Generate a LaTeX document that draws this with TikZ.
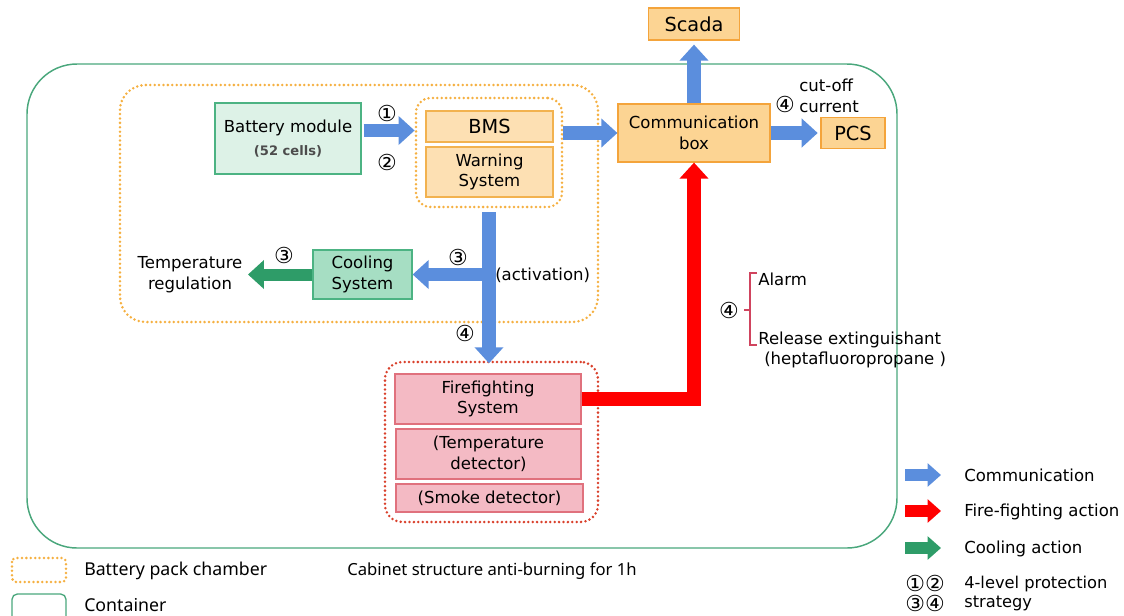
\documentclass[tikz,border=0pt]{standalone}
\usepackage{fontspec}
\setmainfont{DejaVu Sans}
\newfontfamily\uifont{Noto Sans}
\usetikzlibrary{arrows.meta,calc}
\definecolor{contg}{HTML}{4AA77C}
\definecolor{orgdot}{HTML}{F5B041}
\definecolor{lorfill}{HTML}{FDE0B3}
\definecolor{lorbord}{HTML}{F2B24F}
\definecolor{commfill}{HTML}{FCD493}
\definecolor{commbord}{HTML}{F4A43B}
\definecolor{modfill}{HTML}{DDF2E7}
\definecolor{modbord}{HTML}{4CB383}
\definecolor{coolfill}{HTML}{A6DEC3}
\definecolor{pinkfill}{HTML}{F4BAC4}
\definecolor{pinkbord}{HTML}{E0717D}
\definecolor{reddot}{HTML}{D9402B}
\definecolor{bluearr}{HTML}{5B8EDD}
\definecolor{greenarr}{HTML}{2E9C68}
\definecolor{redarr}{HTML}{FF0000}
\definecolor{brack}{HTML}{D0445E}
\tikzset{
  boxtxt/.style={font=\fontsize{12.4}{15.5}\selectfont},
  box/.style={draw, align=center, inner sep=0pt, line width=0.9pt, boxtxt},
  orgbox/.style={box, fill=lorfill, draw=lorbord},
  pinkbox/.style={box, fill=pinkfill, draw=pinkbord},
  dotline/.style={line width=2.1pt, line cap=round, dash pattern=on 0pt off 3.3pt},
  blk/.style={line width=10pt, -{Triangle[width=21pt,length=12pt]}},
  blkleg/.style={line width=9pt, -{Triangle[width=17pt,length=10pt]}},
  lbl/.style={inner sep=0pt, boxtxt},
  circ/.style={inner sep=0pt, font=\fontsize{16.5}{18}\selectfont},
  uitxt/.style={anchor=west, inner sep=0pt, font=\uifont\fontsize{13.3}{15}\selectfont},
}
\begin{document}
\begin{tikzpicture}[x=0.75pt,y=-0.75pt]
\useasboundingbox (0,0) rectangle (1124,615);
% container
\draw[contg, line width=1.1pt, rounded corners=37.5pt] (27,64) rectangle (897,548);
% battery pack chamber
\node (chamber) [draw=orgdot, dotline, rounded corners=19pt, minimum width=358.5pt, minimum height=177.75pt] at (359,203.5) {};
% nodes
\node (mod) [box, fill=modfill, draw=modbord, minimum width=109.5pt, minimum height=53.25pt] at (288,138.5)
  {Battery module\\[1.5pt]{\fontsize{9.8}{11}\selectfont\bfseries\color{black!70}(52 cells)}};
\node (bmsgrp) [draw=orgdot, dotline, rounded corners=11pt, minimum width=109.5pt, minimum height=81.75pt] at (489,152.5) {};
\node (bms) [orgbox, minimum width=95.25pt, minimum height=23.25pt, font=\fontsize{14.5}{16}\selectfont] at (489.5,126.5) {BMS};
\node (warn) [orgbox, minimum width=95.25pt, minimum height=37.5pt] at (489.5,172) {Warning\\System};
\node (comm) [box, fill=commfill, draw=commbord, minimum width=114pt, minimum height=43.5pt] at (694,133) {Communication\\box};
\node (scada) [box, fill=commfill, draw=commbord, minimum width=68.25pt, minimum height=24pt, font=\fontsize{14.5}{16}\selectfont] at (694,24) {Scada};
\node (pcs) [box, fill=commfill, draw=commbord, minimum width=48pt, minimum height=23.25pt, font=\fontsize{14.5}{16}\selectfont] at (853,133) {PCS};
\node (cool) [box, fill=coolfill, draw=modbord, minimum width=74.25pt, minimum height=36.75pt] at (362.5,274.5) {Cooling\\System};
\node (treg) [align=center, inner sep=4pt, boxtxt] at (190,275) {Temperature\\regulation};
\node (ffgrp) [draw=reddot, dotline, rounded corners=13pt, minimum width=159.75pt, minimum height=120pt] at (491.5,442) {};
\node (ff) [pinkbox, minimum width=139.5pt, minimum height=37.5pt] at (488,399) {Firefighting\\System};
\node (td) [pinkbox, minimum width=138.75pt, minimum height=37.5pt] at (488.5,454) {(Temperature\\detector)};
\node (sd) [pinkbox, minimum width=140.25pt, minimum height=21pt] at (489.5,498) {(Smoke detector)};
% connectors
\coordinate (a1s) at ($(mod.east)+(2,-8)$);
\draw[blk, bluearr] (a1s) -- (bmsgrp.west |- a1s);
\draw[blk, bluearr] (bmsgrp.east |- comm.west) -- (comm.west);
\draw[blk, bluearr] (comm.north) -- ([yshift=-3pt]scada.south);
\draw[blk, bluearr] (comm.east) -- ([xshift=-2pt]pcs.west);
\draw[blk, bluearr] ([yshift=-3pt]bmsgrp.south) -- ([yshift=-2pt]bmsgrp.south |- ffgrp.north);
\coordinate (br) at (bmsgrp.south |- cool.east);
\draw[blk, bluearr] (br) -- (cool.east);
\draw[blk, greenarr, line width=9pt] (cool.west) -- (cool.west -| treg.east);
\draw[blk, redarr, line width=11pt, line join=miter] (ff.east) -- (ff.east -| comm.south) -- (comm.south);
% labels
\node (n1) [circ] at (387,113) {①};
\node (n2) [circ] at (387,162) {②};
\node (n3a) [circ] at (458,257) {③};
\node (n3b) [circ] at (284,255) {③};
\node (n4a) [circ] at (465,333) {④};
\node (n4b) [circ] at (785,104) {④};
\node (act) [lbl, anchor=west] at (495,275) {(activation)};
\node (cut) [lbl, anchor=west, align=left] at (799,96) {cut-off\\current};
% bracket
\draw[brack, line width=0.8pt] (757,273) -- (750,273) -- (750,345) -- (757,345);
\draw[brack, line width=0.8pt] (744,310) -- (750,310);
\node (n4c) [circ] at (729,310) {④};
\node (alarm) [lbl, anchor=west] at (758,279) {Alarm};
\node (rel) [lbl, anchor=west] at (758,340) {Release extinguishant};
\node (hep) [lbl, anchor=west] at (764,360) {(heptafluoropropane )};
% right legend
\coordinate (lb1) at (905,475); \coordinate (lb2) at (941,475);
\coordinate (lr1) at (905,511); \coordinate (lr2) at (941,511);
\coordinate (lg1) at (905,548); \coordinate (lg2) at (941,548);
\draw[blkleg, bluearr] (lb1) -- (lb2);
\draw[blkleg, redarr] (lr1) -- (lr2);
\draw[blkleg, greenarr] (lg1) -- (lg2);
\node (lbt) [lbl, anchor=west] at (964,475) {Communication};
\node (lrt) [lbl, anchor=west] at (964,512) {Fire-fighting action};
\node (lgt) [lbl, anchor=west] at (964,549) {Cooling action};
\node (l12) [circ] at (925,583) {①②};
\node (l34) [circ] at (925,603) {③④};
\node (lst) [lbl, anchor=west, align=left, font=\fontsize{12.2}{14.5}\selectfont] at (964,593.5) {4-level protection\\strategy};
% bottom-left legend
\draw[orgdot, dotline, rounded corners=3pt] (12,558) rectangle (66,582);
\draw[contg, line width=1pt, rounded corners=4pt] (12,594) rectangle (66,622);
\node (bpc) [uitxt] at (84,571) {Battery pack chamber};
\node (cont) [uitxt] at (84,605) {Container};
\node (cab) [uitxt, font=\uifont\fontsize{12.5}{14}\selectfont] at (347,571) {Cabinet structure anti-burning for 1h};
\end{tikzpicture}
\end{document}
